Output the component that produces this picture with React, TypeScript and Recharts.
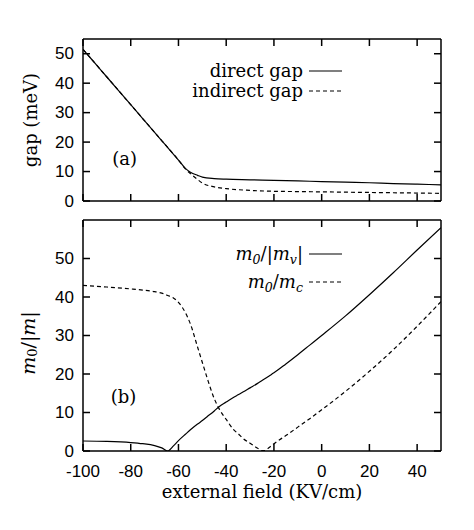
import React from 'react';
import { LineChart, Line, XAxis, YAxis, Legend, ReferenceDot, Label } from 'recharts';

// ---------- data ----------
const fieldA = [-100, -95, -90, -85, -80, -75, -70, -65, -60, -57, -55, -52, -50, -45, -40, -30, -20, -10, 0, 10, 20, 30, 40, 50];
const directGap = [51.5, 46.8, 42.1, 37.4, 32.7, 28.0, 23.3, 18.6, 13.9, 11.0, 9.8, 8.7, 8.1, 7.6, 7.4, 7.2, 7.0, 6.8, 6.6, 6.4, 6.2, 5.9, 5.7, 5.5];
const indirectGap = [51.5, 46.8, 42.1, 37.4, 32.7, 28.0, 23.3, 18.6, 13.9, 10.8, 9.3, 7.3, 6.1, 4.8, 4.2, 3.6, 3.3, 3.2, 3.1, 3.0, 2.9, 2.8, 2.7, 2.6];

const fieldB = [-100, -90, -80, -75, -70, -67, -64.5, -62, -60, -57, -55, -52, -50, -48, -45, -43, -40, -37, -35, -33, -30, -27, -25, -24, -22, -20, -15, -10, -5, 0, 10, 20, 30, 40, 50];
const massV = [2.6, 2.5, 2.2, 1.9, 1.4, 0.8, 0.0, 1.4, 2.7, 4.4, 5.5, 7.0, 7.9, 8.9, 10.4, 11.5, 12.7, 13.9, 14.6, 15.3, 16.4, 17.5, 18.3, 18.7, 19.5, 20.3, 22.6, 25.0, 27.5, 30.0, 35.1, 40.6, 46.3, 52.2, 58.0];
const massC = [43.0, 42.6, 42.1, 41.8, 41.4, 41.0, 40.4, 39.7, 38.6, 35.8, 33.0, 27.0, 23.0, 19.0, 13.6, 11.0, 8.2, 5.6, 4.5, 3.3, 2.0, 0.8, 0.1, 0.1, 0.9, 1.9, 4.0, 6.2, 8.4, 10.7, 15.5, 20.7, 26.3, 32.4, 38.8];

const xTicks = [-100, -80, -60, -40, -20, 0, 20, 40];
const yTicksA = [0, 10, 20, 30, 40, 50];
const yTicksB = [0, 10, 20, 30, 40, 50];
const xDomain: [number, number] = [-100, 50];
const yDomainA: [number, number] = [0, 55];
const yDomainB: [number, number] = [0, 60];

const gapData = fieldA.map((x, i) => ({ x, direct: directGap[i], indirect: indirectGap[i] }));
const massData = fieldB.map((x, i) => ({ x, mv: massV[i], mc: massC[i] }));

// ---------- style ----------
const SERIF = '"DejaVu Serif", serif';
const SANS = '"Liberation Sans", Arial, sans-serif';
const W = 474;
const DASH = '4 3';
const empty = () => '';

const YTick = (p: any) => (
  <text x={p.x} y={p.y} textAnchor="end" dominantBaseline="central" fontFamily={SANS} fontSize={17} fill="#000">
    {p.payload.value}
  </text>
);
const XTick = (p: any) => (
  <text x={p.x} y={p.y} textAnchor="middle" dy="0.72em" fontFamily={SANS} fontSize={17} fill="#000">
    {p.payload.value}
  </text>
);

const Mi = ({ children }: { children: React.ReactNode }) => <span style={{ fontStyle: 'italic' }}>{children}</span>;
const Sub = ({ children }: { children: React.ReactNode }) => (
  <sub style={{ fontSize: '0.7em', verticalAlign: '-0.3em', fontStyle: 'italic' }}>{children}</sub>
);

type Row = { label: React.ReactNode; dash?: string; cy: number };

const makeLegend = (rows: Row[]) => () => (
  <div style={{ position: 'relative', width: W, height: 0 }}>
    {rows.map((r, i) => (
      <React.Fragment key={i}>
        <div
          style={{
            position: 'absolute', right: W - 303, top: r.cy - 13, height: 26, lineHeight: '26px',
            whiteSpace: 'nowrap', fontFamily: SERIF, fontSize: 18, color: '#000', textAlign: 'right',
          }}
        >
          {r.label}
        </div>
        <svg style={{ position: 'absolute', left: 309, top: r.cy - 2 }} width={33} height={4}>
          <line x1={0} y1={2} x2={33} y2={2} stroke="#000" strokeWidth={1.2} strokeDasharray={r.dash} />
        </svg>
      </React.Fragment>
    ))}
  </div>
);

const legendA = makeLegend([
  { label: 'direct gap', cy: 71 },
  { label: 'indirect gap', dash: DASH, cy: 91 },
]);

const legendB = makeLegend([
  { label: <><Mi>m</Mi><Sub>0</Sub>/|<Mi>m</Mi><Sub>v</Sub>|</>, cy: 44 },
  { label: <><Mi>m</Mi><Sub>0</Sub>/<Mi>m</Mi><Sub>c</Sub></>, dash: DASH, cy: 72 },
]);

const noAnim = { isAnimationActive: false as const };
const axisCommon = { stroke: '#000', strokeWidth: 1.5, tickSize: -7, interval: 0 as const, allowDataOverflow: true };

export default function App() {
  return (
    <div style={{ position: 'absolute', left: 0, top: 0, width: W, height: 530, background: '#fff' }}>
      {/* Panel (a) */}
      <div style={{ position: 'absolute', left: 0, top: 0 }}>
        <LineChart width={W} height={210} data={gapData} margin={{ top: 38, right: 32, bottom: 8, left: 0 }}>
          <XAxis dataKey="x" type="number" domain={xDomain} ticks={xTicks} height={1}
            tickFormatter={empty} {...axisCommon} />
          <XAxis xAxisId="top" orientation="top" dataKey="x" type="number" domain={xDomain} ticks={xTicks} height={1}
            tickFormatter={empty} {...axisCommon} />
          <YAxis type="number" domain={yDomainA} ticks={yTicksA} width={83}
            tickMargin={16} tick={YTick} {...axisCommon}>
            <Label content={() => (
              <text x={30} y={120} transform="rotate(-90 30 120)" textAnchor="middle" dominantBaseline="central"
                fontFamily={SERIF} fontSize={18} fill="#000" stroke="none">gap (meV)</text>
            )} />
          </YAxis>
          <YAxis yAxisId="right" orientation="right" type="number" domain={yDomainA} ticks={yTicksA} width={1}
            tickFormatter={empty} {...axisCommon} />
          <Legend verticalAlign="top" layout="horizontal" content={legendA}
            wrapperStyle={{ left: 0, top: 0, width: W, height: 0 }} />
          <ReferenceDot x={-82.6} y={14.3} r={0} stroke="none" fill="none"
            label={{ value: '(a)', position: 'center', fontFamily: SERIF, fontSize: 18, fill: '#000' }} />
          <Line dataKey="direct" type="monotone" stroke="#000" strokeWidth={1.2} dot={false} {...noAnim} />
          <Line dataKey="indirect" type="monotone" stroke="#000" strokeWidth={1.2} strokeDasharray={DASH} dot={false} {...noAnim} />
        </LineChart>
      </div>

      {/* Panel (b) */}
      <div style={{ position: 'absolute', left: 0, top: 210 }}>
        <LineChart width={W} height={320} data={massData} margin={{ top: 9, right: 32, bottom: 39, left: 0 }}>
          <XAxis dataKey="x" type="number" domain={xDomain} ticks={xTicks} height={40}
            tickMargin={21} tick={XTick} {...axisCommon}>
            <Label content={() => (
              <text x={262} y={288} textAnchor="middle" fontFamily={SERIF} fontSize={18} fill="#000" stroke="none">external field (KV/cm)</text>
            )} />
          </XAxis>
          <XAxis xAxisId="top" orientation="top" dataKey="x" type="number" domain={xDomain} ticks={xTicks} height={1}
            tickFormatter={empty} {...axisCommon} />
          <YAxis type="number" domain={yDomainB} ticks={yTicksB} width={83}
            tickMargin={16} tick={YTick} {...axisCommon}>
            <Label content={() => (
              <text x={28} y={133} transform="rotate(-90 28 133)" textAnchor="middle" dominantBaseline="central"
                fontFamily={SERIF} fontSize={19} fill="#000" stroke="none">
                <tspan fontStyle="italic">m</tspan>
                <tspan fontSize={13} dy={4}>0</tspan>
                <tspan dy={-4}>/|</tspan>
                <tspan fontStyle="italic">m</tspan>
                <tspan>|</tspan>
              </text>
            )} />
          </YAxis>
          <YAxis yAxisId="right" orientation="right" type="number" domain={yDomainB} ticks={yTicksB} width={1}
            tickFormatter={empty} {...axisCommon} />
          <Legend verticalAlign="top" layout="horizontal" content={legendB}
            wrapperStyle={{ left: 0, top: 0, width: W, height: 0 }} />
          <ReferenceDot x={-83} y={14.0} r={0} stroke="none" fill="none"
            label={{ value: '(b)', position: 'center', fontFamily: SERIF, fontSize: 18, fill: '#000' }} />
          <Line dataKey="mv" type="monotone" stroke="#000" strokeWidth={1.2} dot={false} {...noAnim} />
          <Line dataKey="mc" type="monotone" stroke="#000" strokeWidth={1.2} strokeDasharray={DASH} dot={false} {...noAnim} />
        </LineChart>
      </div>
    </div>
  );
}
